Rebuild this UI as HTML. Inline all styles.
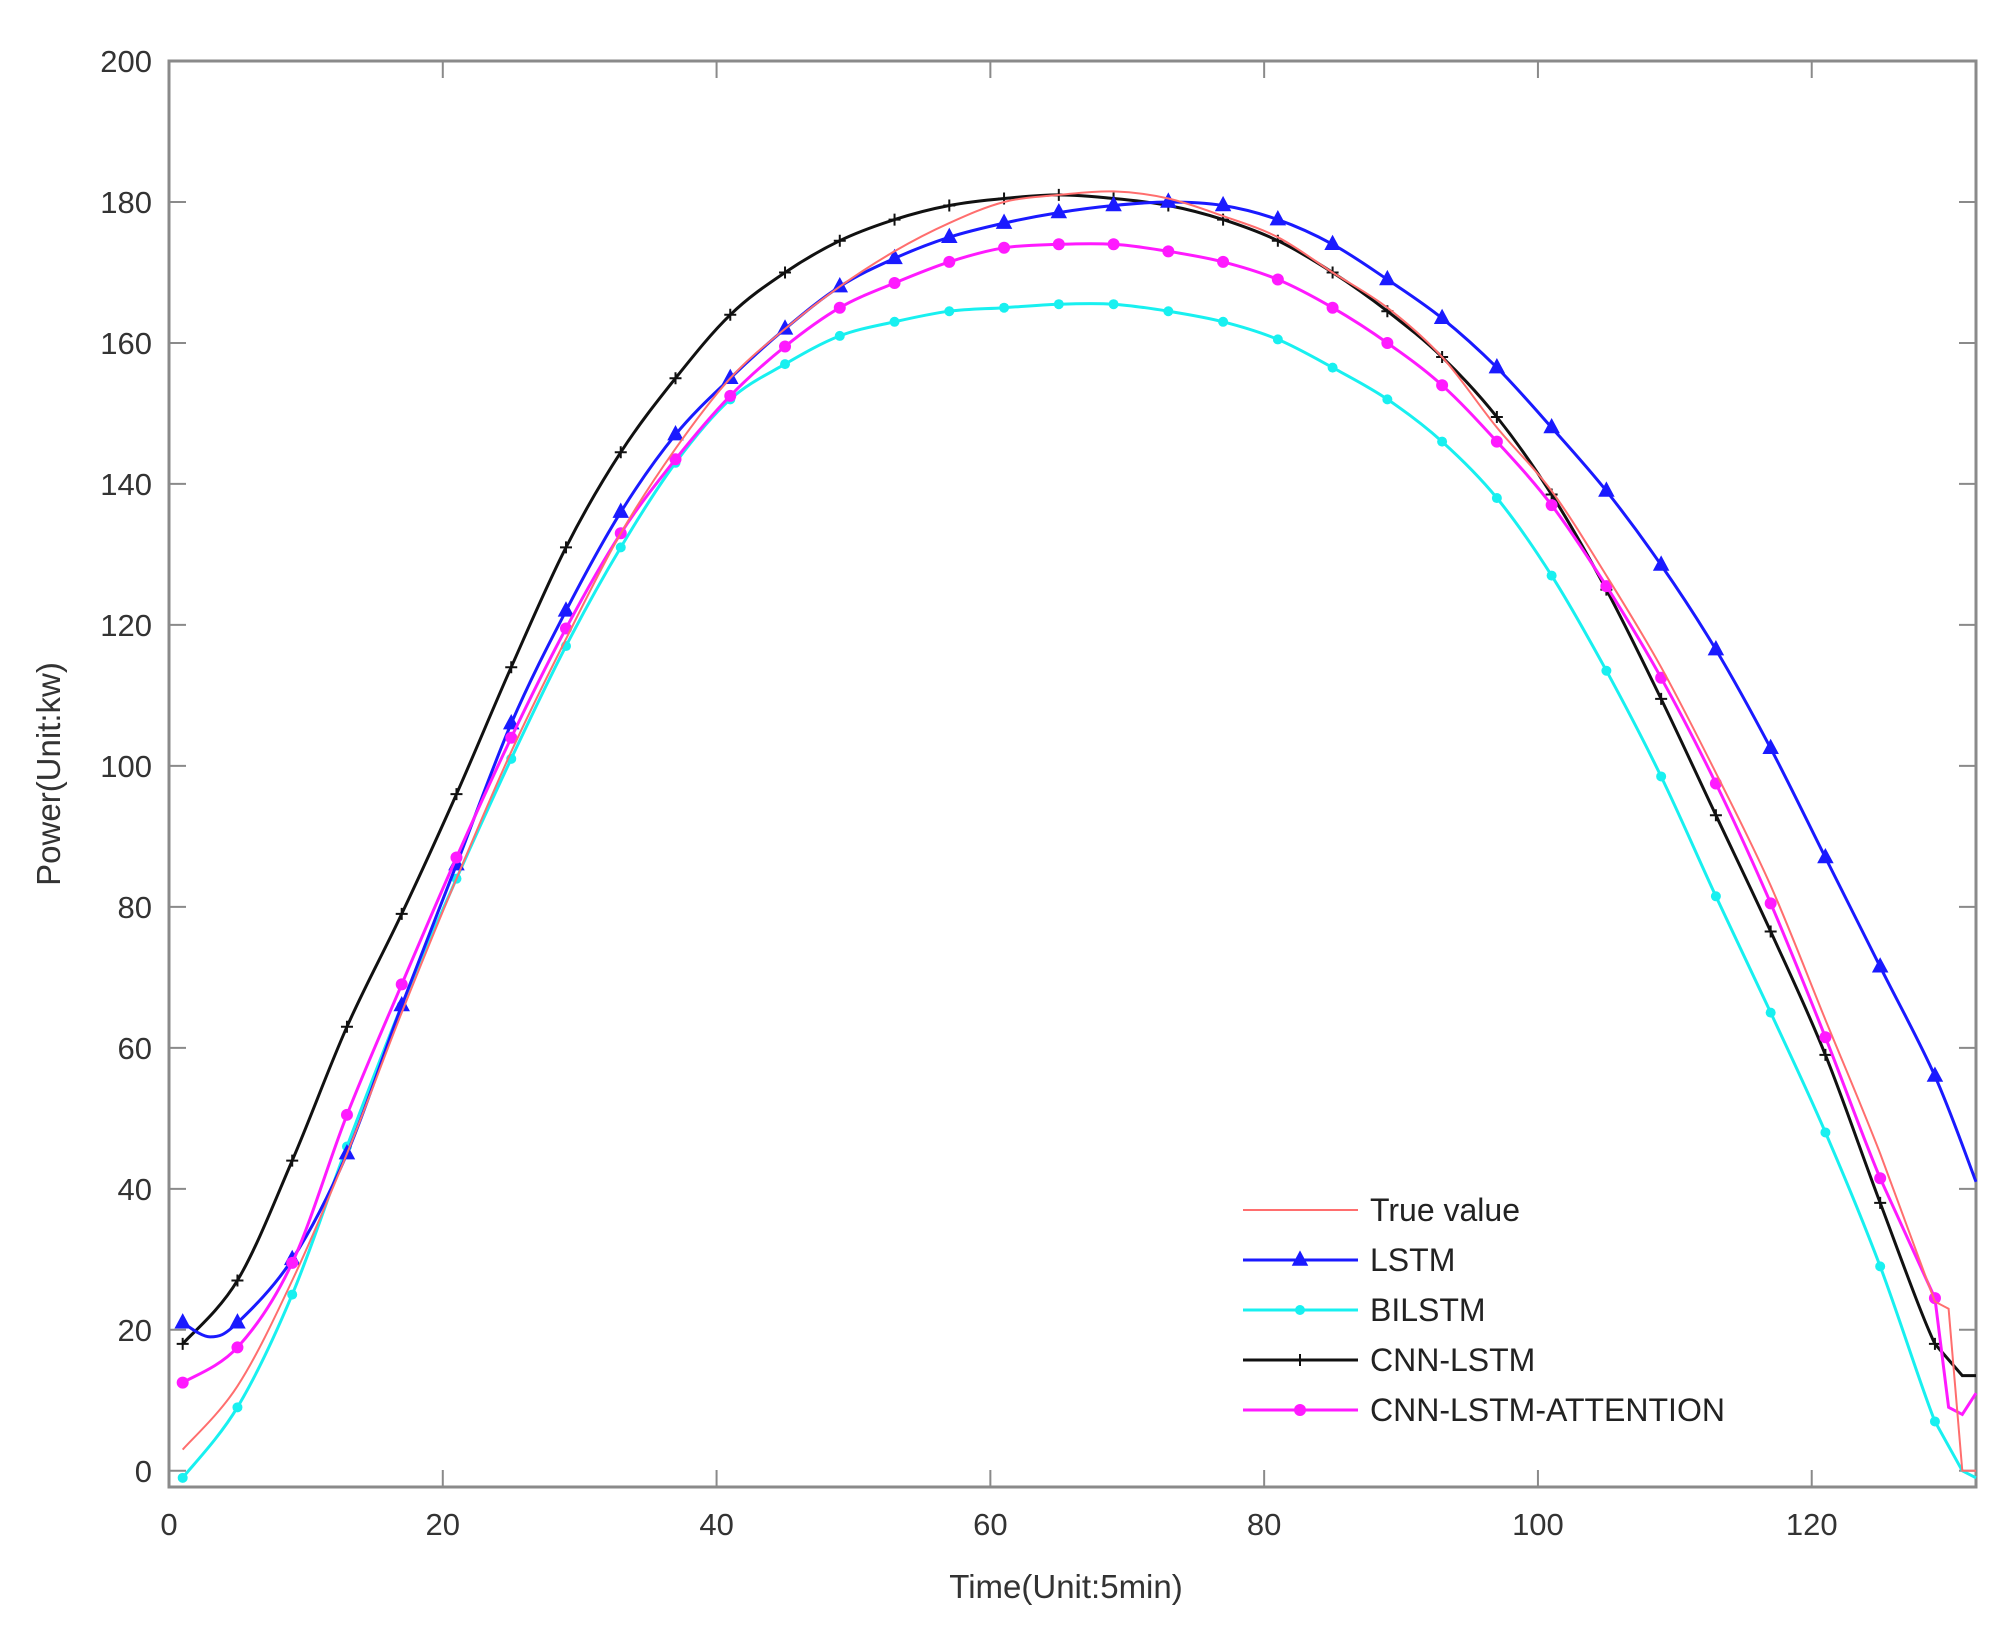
<!DOCTYPE html>
<html><head><meta charset="utf-8"><style>
html,body{margin:0;padding:0;background:#fff;}
svg{display:block;font-family:"Liberation Sans",Arial,sans-serif;}
</style></head><body>
<svg id="chart" width="2014" height="1643" viewBox="0 0 2014 1643" xmlns="http://www.w3.org/2000/svg">
<g id="plot"></g>
</svg>
<script>
const xTicks=[0,20,40,60,80,100,120];
const yTicks=[0,20,40,60,80,100,120,140,160,180,200];
const seriesNames=["True value","LSTM","BILSTM","CNN-LSTM","CNN-LSTM-ATTENTION"];
const trueX=[1,5,9,13,17,21,25,29,33,37,41,45,49,53,57,61,65,69,73,77,81,85,89,93,97,101,105,109,113,117,121,125,129,130,131,132];
const trueY=[3,12,27,45,65,84,102,118,133,145,155,162,168,173,177,180,181,181.5,180.5,178,175,170,165,158,148,139,127,114,99,83,64,45,24,23,0,0];
const lstmX=[1,3,5,9,13,17,21,25,29,33,37,41,45,49,53,57,61,65,69,73,77,81,85,89,93,97,101,105,109,113,117,121,125,129,132];
const lstmY=[21,19,21,30,45,66,86,106,122,136,147,155,162,168,172,175,177,178.5,179.5,180,179.5,177.5,174,169,163.5,156.5,148,139,128.5,116.5,102.5,87,71.5,56,41];
const biX=[1,5,9,13,17,21,25,29,33,37,41,45,49,53,57,61,65,69,73,77,81,85,89,93,97,101,105,109,113,117,121,125,129,131,132];
const biY=[-1,9,25,46,66,84,101,117,131,143,152,157,161,163,164.5,165,165.5,165.5,164.5,163,160.5,156.5,152,146,138,127,113.5,98.5,81.5,65,48,29,7,0,-1];
const cnnX=[1,5,9,13,17,21,25,29,33,37,41,45,49,53,57,61,65,69,73,77,81,85,89,93,97,101,105,109,113,117,121,125,129,131,132];
const cnnY=[18,27,44,63,79,96,114,131,144.5,155,164,170,174.5,177.5,179.5,180.5,181,180.5,179.5,177.5,174.5,170,164.5,158,149.5,138.5,125,109.5,93,76.5,59,38,18,13.5,13.5];
const attX=[1,5,9,13,17,21,25,29,33,37,41,45,49,53,57,61,65,69,73,77,81,85,89,93,97,101,105,109,113,117,121,125,129,130,131,132];
const attY=[12.5,17.5,29.5,50.5,69,87,104,119.5,133,143.5,152.5,159.5,165,168.5,171.5,173.5,174,174,173,171.5,169,165,160,154,146,137,125.5,112.5,97.5,80.5,61.5,41.5,24.5,9,8,11];

const L=169,R=1976,T=61,B=1487,xmin=0,xmax=132,ymin=-2.3,ymax=200;
const sx=v=>L+(v-xmin)/(xmax-xmin)*(R-L);
const sy=v=>B-(v-ymin)/(ymax-ymin)*(B-T);
const NS="http://www.w3.org/2000/svg";
const g=document.getElementById('plot');
function mk(tag,at,parent){const e=document.createElementNS(NS,tag);for(const k in at)e.setAttribute(k,at[k]);(parent||g).appendChild(e);return e;}
function path(xs,ys){
  const p=xs.map((x,i)=>[sx(x),sy(ys[i])]);
  let d="M"+p[0][0].toFixed(1)+","+p[0][1].toFixed(1);
  for(let i=0;i<p.length-1;i++){
    const p1=p[i],p2=p[i+1];
    if(xs[i+1]-xs[i]<=1 || (i+2<xs.length && xs[i+2]-xs[i+1]<=1 && xs[i+1]>=129)){
      d+=" L"+p2[0].toFixed(1)+","+p2[1].toFixed(1);continue;
    }
    const p0=p[Math.max(0,i-1)],p3=p[Math.min(p.length-1,i+2)];
    const c1=[p1[0]+(p2[0]-p0[0])/6,p1[1]+(p2[1]-p0[1])/6];
    const c2=[p2[0]-(p3[0]-p1[0])/6,p2[1]-(p3[1]-p1[1])/6];
    d+=" C"+c1[0].toFixed(1)+","+c1[1].toFixed(1)+" "+c2[0].toFixed(1)+","+c2[1].toFixed(1)+" "+p2[0].toFixed(1)+","+p2[1].toFixed(1);
  }
  return d;
}
function marker(type,color,x,y,parent){
  let e;
  if(type==='tri'){e=mk('polygon',{points:`${x},${y-8} ${x-7},${y+5} ${x+7},${y+5}`,fill:color,stroke:color,'stroke-width':1.5},parent);}
  else if(type==='dot'){e=mk('circle',{cx:x,cy:y,r:5,fill:color},parent);}
  else if(type==='bigdot'){e=mk('circle',{cx:x,cy:y,r:6,fill:color},parent);}
  else if(type==='plus'){e=mk('path',{d:`M${x-6},${y}H${x+6}M${x},${y-6}V${y+6}`,stroke:color,'stroke-width':2,fill:'none'},parent);}
  return e;
}
const box=mk('rect',{x:L,y:T,width:R-L,height:B-T,fill:'none',stroke:'#8a8a8a','stroke-width':3});


xTicks.forEach(v=>{
  const t=mk('line',{x1:sx(v),x2:sx(v),y1:B,y2:B-17,stroke:'#8a8a8a','stroke-width':2});
  
  
  const t2=mk('line',{x1:sx(v),x2:sx(v),y1:T,y2:T+17,stroke:'#8a8a8a','stroke-width':2});
  
  
  const lb=mk('text',{x:sx(v),y:B+48,'font-size':31,'text-anchor':'middle',fill:'#333'});
  lb.textContent=v;
  
  
});
yTicks.forEach(v=>{
  const t=mk('line',{x1:L,x2:L+17,y1:sy(v),y2:sy(v),stroke:'#8a8a8a','stroke-width':2});
  
  
  const t2=mk('line',{x1:R,x2:R-17,y1:sy(v),y2:sy(v),stroke:'#8a8a8a','stroke-width':2});
  
  
  const lb=mk('text',{x:L-17,y:sy(v)+11,'font-size':31,'text-anchor':'end',fill:'#333'});
  lb.textContent=v;
  
  
});
const xl=mk('text',{x:1066,y:1598,'font-size':33,'text-anchor':'middle',fill:'#333'});
xl.textContent="Time(Unit:5min)";


const yl=mk('text',{x:0,y:0,'font-size':33,'text-anchor':'middle',fill:'#333',transform:`translate(60,${(T+B)/2}) rotate(-90)`});
yl.textContent="Power(Unit:kw)";



const defs=[
 {xs:trueX,ys:trueY,color:'#ff6e6e',m:null,name:'true-value-line',w:2},
 {xs:lstmX,ys:lstmY,color:'#1a1aff',m:'tri',name:'lstm-line',w:3},
 {xs:biX,ys:biY,color:'#18f0f0',m:'dot',name:'bilstm-line',w:3},
 {xs:cnnX,ys:cnnY,color:'#111111',m:'plus',name:'cnn-lstm-line',w:3},
 {xs:attX,ys:attY,color:'#ff1aff',m:'bigdot',name:'cnn-lstm-attention-line',w:3}
];
const drawOrder=[2,3,1,4,0];
drawOrder.forEach(i=>{
  const s=defs[i];
  const sg=mk('g',{});
  
  
  const p=mk('path',{d:path(s.xs,s.ys),fill:'none',stroke:s.color,'stroke-width':s.w},sg);
  
  
  if(s.m){
    s.xs.forEach((x,j)=>{
      if((x-1)%4===0){
        const m=marker(s.m,s.color,sx(x),sy(s.ys[j]),sg);
        
        
      }
    });
  }
});
const lg=mk('g',{});


defs.forEach((s,i)=>{
  const y=1210+i*50;
  const eg=mk('g',{},lg);
  
  
  mk('line',{x1:1243,x2:1358,y1:y,y2:y,stroke:s.color,'stroke-width':s.w},eg);
  if(s.m){marker(s.m,s.color,1300,y,eg);}
  const t=mk('text',{x:1370,y:y+11,'font-size':32,fill:'#222'},eg);
  t.textContent=seriesNames[i];
});
</script>
</body></html>
